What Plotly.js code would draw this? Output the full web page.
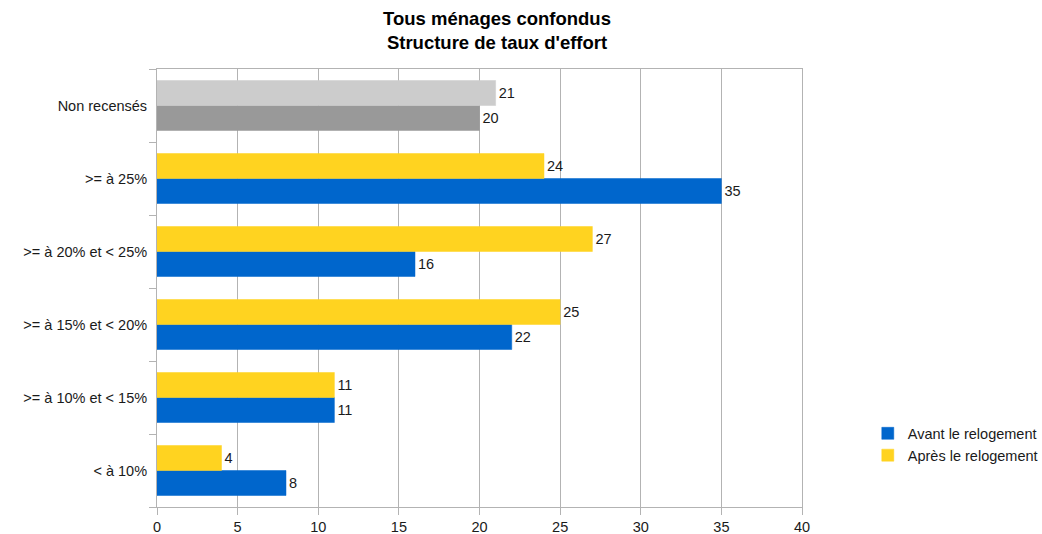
<!DOCTYPE html>
<html>
<head>
<meta charset="utf-8">
<script src="https://cdn.plot.ly/plotly-3.0.1.min.js"></script>
<style>html,body{margin:0;padding:0;background:#fff;}#chart{width:1042px;height:534px;}</style>
</head>
<body>
<div id="chart"></div>
<script>
const categories = ["< à 10%", ">= à 10% et < 15%", ">= à 15% et < 20%", ">= à 20% et < 25%", ">= à 25%", "Non recensés"];
const avant = [8, 11, 22, 16, 35, 20];
const apres = [4, 11, 25, 27, 24, 21];
const seriesNames = ["Avant le relogement", "Après le relogement"];
const avantColors = ["#0066cc", "#0066cc", "#0066cc", "#0066cc", "#0066cc", "#999999"];
const apresColors = ["#ffd320", "#ffd320", "#ffd320", "#ffd320", "#ffd320", "#cccccc"];
const xTicks = [0, 5, 10, 15, 20, 25, 30, 35, 40];

const font = "Liberation Sans, Arial, sans-serif";
const fs = 14.5;
const common = {
  type: "bar", orientation: "h", y: categories,
  textposition: "outside", cliponaxis: false,
  textfont: {family: font, size: fs, color: "#1a1a1a"},
  hoverinfo: "skip"
};
const traces = [
  Object.assign({}, common, {
    name: seriesNames[0], x: avant, text: avant.map(String),
    marker: {color: avantColors, line: {width: 0.5, color: avantColors}}
  }),
  Object.assign({}, common, {
    name: seriesNames[1], x: apres, text: apres.map(String),
    marker: {color: apresColors, line: {width: 0.5, color: apresColors}}
  })
];
const layout = {
  width: 1042, height: 534,
  margin: {l: 157, r: 240, t: 69, b: 27, pad: 0, autoexpand: false},
  paper_bgcolor: "#fff", plot_bgcolor: "#fff",
  barmode: "group", bargap: 0.315, bargroupgap: 0,
  showlegend: true,
  font: {family: font, size: fs, color: "#1a1a1a"},
  title: {
    text: "<b>Tous ménages confondus<br>Structure de taux d'effort</b>",
    font: {family: font, size: 18.5, color: "#000"},
    xref: "container", x: 0.477, xanchor: "center",
    yref: "container", y: 0.953, yanchor: "top"
  },
  xaxis: {
    range: [0, 40], tickvals: xTicks, ticktext: xTicks.map(String),
    showgrid: true, gridcolor: "#b3b3b3", gridwidth: 1,
    zeroline: false, showline: true, linecolor: "#b3b3b3", linewidth: 1, mirror: true,
    ticks: "outside", ticklen: 7, tickcolor: "#b3b3b3",
    tickfont: {family: font, size: fs, color: "#1a1a1a"}, fixedrange: true
  },
  yaxis: {
    type: "category", categoryorder: "array", categoryarray: categories,
    showgrid: false, zeroline: false,
    showline: true, linecolor: "#b3b3b3", linewidth: 1, mirror: true,
    ticks: "outside", tickson: "boundaries", ticklen: 7, tickcolor: "#b3b3b3",
    ticklabelstandoff: 6,
    tickfont: {family: font, size: fs, color: "#1a1a1a"}, fixedrange: true
  },
  legend: {
    x: 1.102, xanchor: "left", y: 0.2046, yanchor: "top",
    font: {family: font, size: fs, color: "#1a1a1a"},
    itemwidth: 30, tracegroupgap: 0, bgcolor: "rgba(0,0,0,0)"
  }
};
Plotly.newPlot("chart", traces, layout, {displayModeBar: false, staticPlot: true});
</script>
</body>
</html>
